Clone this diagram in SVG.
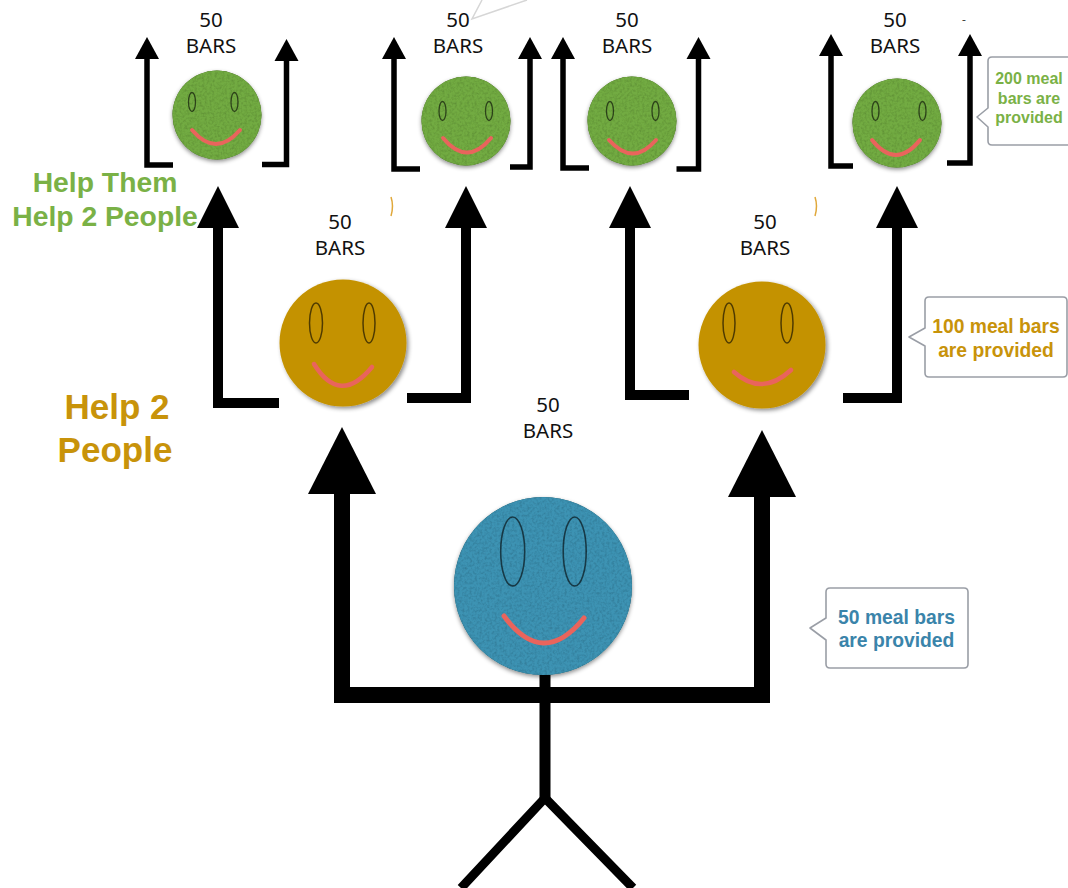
<svg xmlns="http://www.w3.org/2000/svg" width="1068" height="888" viewBox="0 0 1068 888">
<style>
text{text-anchor:middle}
.bars{font-family:"Noto Sans","Open Sans",sans-serif;font-size:20.5px;fill:#111}
.hb{font-family:"Liberation Sans",Arial,sans-serif;font-weight:700}
.gt{fill:#7ab146}.ot{fill:#c8930a}.bt{fill:#3a84aa}
.call{fill:#fff;stroke:#9a9ea6;stroke-width:1.6;stroke-linejoin:round}
.eye{fill:none;stroke:#000;stroke-opacity:.6}
.smile{fill:none;stroke:#e9645c;stroke-linecap:round}
.gf{fill:#72ab42;filter:url(#felt)}.of{fill:#c49200;filter:url(#smooth)}.bf{fill:#3c93b3;filter:url(#felt)}
.ln{fill:none;stroke:#000;stroke-linejoin:miter}
.s{stroke-width:5.500;marker-end:url(#hs)}.m{stroke-width:10;marker-end:url(#hm)}.l{stroke-width:16;marker-end:url(#hl)}
</style>
<defs>
<marker id="hs" markerUnits="userSpaceOnUse" markerWidth="24" markerHeight="26" refX="0" refY="13" orient="auto" overflow="visible"><path d="M0 1L22 13L0 25Z"/></marker>
<marker id="hm" markerUnits="userSpaceOnUse" markerWidth="44" markerHeight="44" refX="0" refY="21" orient="auto" overflow="visible"><path d="M0 0L42 21L0 42Z"/></marker>
<marker id="hl" markerUnits="userSpaceOnUse" markerWidth="68" markerHeight="68" refX="0" refY="34" orient="auto" overflow="visible"><path d="M0 0L67 34L0 68Z"/></marker>
<filter id="felt" x="-10%" y="-10%" width="120%" height="125%">
<feTurbulence type="fractalNoise" baseFrequency=".4" numOctaves="2" seed="4" result="n"/>
<feColorMatrix in="n" type="matrix" values="0 0 0 0 0 0 0 0 0 0 0 0 0 0 0 .6 0 0 0 -.24" result="d"/>
<feComposite in="d" in2="SourceAlpha" operator="in" result="t"/>
<feDropShadow in="SourceAlpha" dx="0" dy="2" stdDeviation="2.2" flood-color="#000" flood-opacity=".45" result="sh"/>
<feMerge><feMergeNode in="sh"/><feMergeNode in="SourceGraphic"/><feMergeNode in="t"/></feMerge>
</filter>
<filter id="smooth" x="-10%" y="-10%" width="125%" height="125%">
<feDropShadow dx="2" dy="2" stdDeviation="2.2" flood-color="#000" flood-opacity=".45"/>
</filter>
</defs>
<rect width="1068" height="888" fill="#fff"/>

<g id="connectors">
<path class="ln s" d="M173 165H147V59"/>
<path class="ln s" d="M262 164.500H286.500V61"/>
<path class="ln s" d="M420 169H394V59"/>
<path class="ln s" d="M510 167H530V59"/>
<path class="ln s" d="M589 168H563V59"/>
<path class="ln s" d="M676.500 169H698.500V59"/>
<path class="ln s" d="M853 166H831V56"/>
<path class="ln s" d="M947 163H970V56"/>
<path class="ln m" d="M279 403H218V228"/>
<path class="ln m" d="M407 398H466V228"/>
<path class="ln m" d="M689 395H630V228"/>
<path class="ln m" d="M843 398H897V228"/>
<path class="ln l" d="M545 695H342V494"/>
<path class="ln l" d="M545 695H762V497"/>
</g>

<g id="person-body">
<path d="M545 675V800" fill="none" stroke="#000" stroke-width="11"/>
<path d="M545 798L461 888M545 798L633 888" fill="none" stroke="#000" stroke-width="9"/>
</g>

<g id="face-top-1"><circle class="gf" cx="217" cy="115" r="44.500"/>
<ellipse class="eye" cx="192" cy="102" rx="3.500" ry="9.500" stroke-width="1.300"/><ellipse class="eye" cx="234.500" cy="102" rx="3.500" ry="9.500" stroke-width="1.300"/>
<path class="smile" stroke-width="4" d="M192 130Q216 158 240 130"/></g>
<g id="face-top-2"><circle class="gf" cx="466" cy="121" r="44.500"/>
<ellipse class="eye" cx="442.500" cy="111" rx="3.500" ry="9.500" stroke-width="1.300"/><ellipse class="eye" cx="489" cy="111" rx="3.500" ry="9.500" stroke-width="1.300"/>
<path class="smile" stroke-width="4" d="M443 138Q467 167 491 138"/></g>
<g id="face-top-3"><circle class="gf" cx="632" cy="121" r="44.500"/>
<ellipse class="eye" cx="610" cy="111" rx="3.500" ry="9.500" stroke-width="1.300"/><ellipse class="eye" cx="655.500" cy="111" rx="3.500" ry="9.500" stroke-width="1.300"/>
<path class="smile" stroke-width="4" d="M609 140Q633 167 656 140"/></g>
<g id="face-top-4"><circle class="gf" cx="897" cy="123" r="44.500"/>
<ellipse class="eye" cx="875.500" cy="111" rx="3.500" ry="9.500" stroke-width="1.300"/><ellipse class="eye" cx="922.500" cy="111" rx="3.500" ry="9.500" stroke-width="1.300"/>
<path class="smile" stroke-width="4" d="M872 140Q896 170 920 140"/></g>

<g id="face-mid-1"><circle class="of" cx="343" cy="343" r="63.500"/>
<ellipse class="eye" cx="316" cy="323" rx="6.500" ry="20" stroke-width="1.500"/><ellipse class="eye" cx="369" cy="323" rx="6" ry="20" stroke-width="1.500"/>
<path class="smile" stroke-width="4.500" d="M314 364Q340 406 372 367"/></g>
<g id="face-mid-2"><circle class="of" cx="762" cy="345" r="63.500"/>
<ellipse class="eye" cx="729" cy="323" rx="6" ry="20" stroke-width="1.500"/><ellipse class="eye" cx="787" cy="323" rx="6" ry="20" stroke-width="1.500"/>
<path class="smile" stroke-width="4.500" d="M734 372Q762 397 791 370"/></g>

<g id="face-main"><circle class="bf" cx="543" cy="586" r="89"/>
<ellipse class="eye" cx="512.700" cy="551.500" rx="12" ry="34.500" stroke-width="1.600"/><ellipse class="eye" cx="574.700" cy="551.500" rx="11.500" ry="34.500" stroke-width="1.600"/>
<path class="smile" stroke-width="5" d="M504 616Q543 669 584 618"/></g>

<g id="labels-50-bars">
<text class="bars" x="211" y="27">50</text><text class="bars" x="211" y="53">BARS</text>
<text class="bars" x="458" y="27">50</text><text class="bars" x="458" y="53">BARS</text>
<text class="bars" x="627" y="27">50</text><text class="bars" x="627" y="53">BARS</text>
<text class="bars" x="895" y="27">50</text><text class="bars" x="895" y="53">BARS</text>
<text class="bars" x="340" y="229">50</text><text class="bars" x="340" y="255">BARS</text>
<text class="bars" x="765" y="229">50</text><text class="bars" x="765" y="255">BARS</text>
<text class="bars" x="548" y="412">50</text><text class="bars" x="548" y="438">BARS</text>
</g>

<g id="label-help-them">
<text class="hb gt" font-size="28.300" x="105" y="192">Help Them</text>
<text class="hb gt" font-size="28.300" x="105" y="226">Help 2 People</text>
</g>
<g id="label-help-2">
<text class="hb ot" font-size="35" x="117" y="419">Help 2</text>
<text class="hb ot" font-size="35" x="115" y="462">People</text>
</g>

<g id="callout-200">
<path class="call" d="M992 57H1072V145H992Q988 145 988 141V127L977 117L988 108V61Q988 57 992 57Z"/>
<text class="hb gt" font-size="16" x="1029" y="84">200 meal</text>
<text class="hb gt" font-size="16" x="1029" y="104">bars are</text>
<text class="hb gt" font-size="16" x="1029" y="123">provided</text>
</g>
<g id="callout-100">
<path class="call" d="M929 297H1063Q1067 297 1067 301V373Q1067 377 1063 377H929Q925 377 925 373V346L909 337L925 328V301Q925 297 929 297Z"/>
<text class="hb ot" font-size="19.300" x="996" y="333">100 meal bars</text>
<text class="hb ot" font-size="19.300" x="996" y="357">are provided</text>
</g>
<g id="callout-50">
<path class="call" d="M830 588H964Q968 588 968 592V664Q968 668 964 668H830Q826 668 826 664V640L810 628L826 618V592Q826 588 830 588Z"/>
<text class="hb bt" font-size="19.300" x="896.500" y="624">50 meal bars</text>
<text class="hb bt" font-size="19.300" x="896.500" y="647">are provided</text>
</g>

<g id="fragments">
<path d="M482 0L472 19L527 0" fill="#fff" stroke="#d6d6d6" stroke-width="1.500"/>
<text x="964" y="24" font-family="Noto Sans,sans-serif" font-size="12" fill="#444">-</text>
<path d="M391 197Q394 206 391 216" fill="none" stroke="#e0a83a" stroke-width="1.500"/>
<path d="M815 197Q818 206 815 216" fill="none" stroke="#e0a83a" stroke-width="1.500"/>
</g>
</svg>
